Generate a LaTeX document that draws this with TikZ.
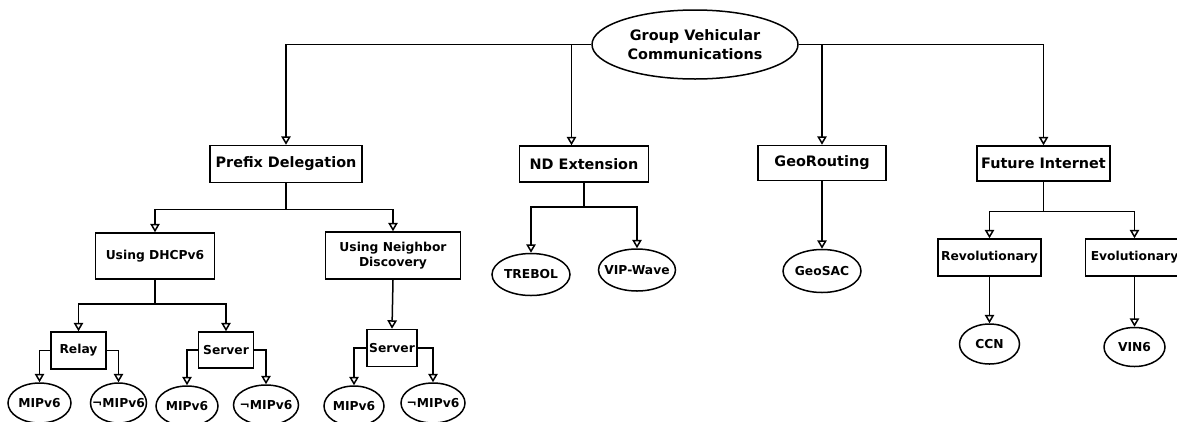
\documentclass[tikz,border=0pt]{standalone}
\usepackage{fontspec}
\setmainfont{DejaVu Sans}
\usepackage{tikz}
\usetikzlibrary{arrows.meta,shapes.geometric}

\begin{document}
\begin{tikzpicture}[x=1pt,y=-1pt,line width=1.5pt,
  >={Triangle[open,length=8.5pt,width=9.5pt]},
  topbox/.style={draw,inner sep=0pt,font=\bfseries\fontsize{14.4}{18}\selectfont},
  subbox/.style={draw,inner sep=0pt,align=center,font=\bfseries\fontsize{12.3}{15.5}\selectfont},
  leaftext/.style={inner sep=0pt,font=\bfseries\fontsize{12.3}{15}\selectfont},
  leaf/.style={ellipse,draw,inner sep=0pt,label={[leaftext]center:#1}}]
\useasboundingbox (0,0) rectangle (1177,421);
\node[ellipse,draw,inner sep=0pt,align=center,minimum width=206pt,minimum height=69pt,
  font=\bfseries\fontsize{14.4}{18.3}\selectfont] (root) at (695,44.5) {Group Vehicular\\Communications};
% first level
\node[topbox,minimum width=152pt,minimum height=37pt] (prefix) at (286,164) {Prefix Delegation};
\node[topbox,minimum width=129pt,minimum height=36pt] (ndext) at (584,164) {ND Extension};
\node[topbox,minimum width=128pt,minimum height=35pt] (georouting) at (822,163) {GeoRouting};
\node[topbox,minimum width=133pt,minimum height=35pt] (future) at (1043.5,163.5) {Future Internet};
% second level
\node[subbox,minimum width=119pt,minimum height=46pt] (dhcp) at (155,256) {Using DHCPv6};
\node[subbox,minimum width=135pt,minimum height=47pt] (ndisc) at (393,255.5) {Using Neighbor\\Discovery};
\node[leaf=TREBOL,minimum width=78pt,minimum height=42pt] (trebol) at (531,274.5) {};
\node[leaf=VIP-Wave,minimum width=77pt,minimum height=42pt] (vipwave) at (637,270) {};
\node[leaf=GeoSAC,minimum width=78pt,minimum height=43pt] (geosac) at (822,271) {};
\node[subbox,minimum width=103pt,minimum height=37pt] (revol) at (989.5,257.5) {Revolutionary};
\node[subbox,minimum width=98pt,minimum height=37pt] (evol) at (1134.5,257.5) {Evolutionary};
\node[leaf=CCN,minimum width=60pt,minimum height=40pt] (ccn) at (989.5,344) {};
\node[leaf=VIN6,minimum width=61pt,minimum height=39pt] (vin6) at (1134.5,347) {};
% third level
\node[subbox,minimum width=55pt,minimum height=37pt] (relay) at (78.5,350.5) {Relay};
\node[subbox,minimum width=55pt,minimum height=36pt] (server1) at (226,350) {Server};
\node[subbox,minimum width=50pt,minimum height=37pt] (server2) at (392,348) {Server};
\node[leaf=MIPv6,minimum width=63pt,minimum height=40pt] (relaymip) at (39.5,403) {};
\node[leaf=¬MIPv6,minimum width=56pt,minimum height=40pt] (relaynomip) at (118.5,403) {};
\node[leaf=MIPv6,minimum width=62pt,minimum height=40pt] (servermip) at (187,406) {};
\node[leaf=¬MIPv6,minimum width=65pt,minimum height=40pt] (servernomip) at (266,405) {};
\node[leaf=MIPv6,minimum width=60pt,minimum height=40pt] (ndmip) at (354,406) {};
\node[leaf=¬MIPv6,minimum width=64pt,minimum height=40pt] (ndnomip) at (433,403) {};
% connectors
\draw[->] (root.west) -| (prefix.north);
\draw[->] (root.west) -| ([xshift=-12.5pt]ndext.north);
\draw[->] (root.east) -| (georouting.north);
\draw[->] (root.east) -| (future.north);
\draw[->] (prefix.south) -- ++(0,26) -| (dhcp.north);
\draw[->] (prefix.south) -- ++(0,26) -| (ndisc.north);
\draw[->] (ndext.south) -- ++(0,24) -| (trebol.north);
\draw[->] (ndext.south) -- ++(0,24) -| (vipwave.north);
\draw[->] (georouting.south) -- (geosac.north);
\draw[->] (future.south) -- ++(0,29.5) -| (revol.north);
\draw[->] (future.south) -- ++(0,29.5) -| (evol.north);
\draw[->] (revol.south) -- (ccn.north);
\draw[->] (evol.south) -- (vin6.north);
\draw[->] (dhcp.south) -- ++(0,24) -| (relay.north);
\draw[->] (dhcp.south) -- ++(0,24) -| (server1.north);
\draw[->] (ndisc.south) -- (server2.north);
\draw[->] (relay.west) -| (relaymip.north);
\draw[->] (relay.east) -| (relaynomip.north);
\draw[->] (server1.west) -| (servermip.north);
\draw[->] (server1.east) -| (servernomip.north);
\draw[->] (server2.west) -| (ndmip.north);
\draw[->] (server2.east) -| (ndnomip.north);
\end{tikzpicture}
\end{document}
